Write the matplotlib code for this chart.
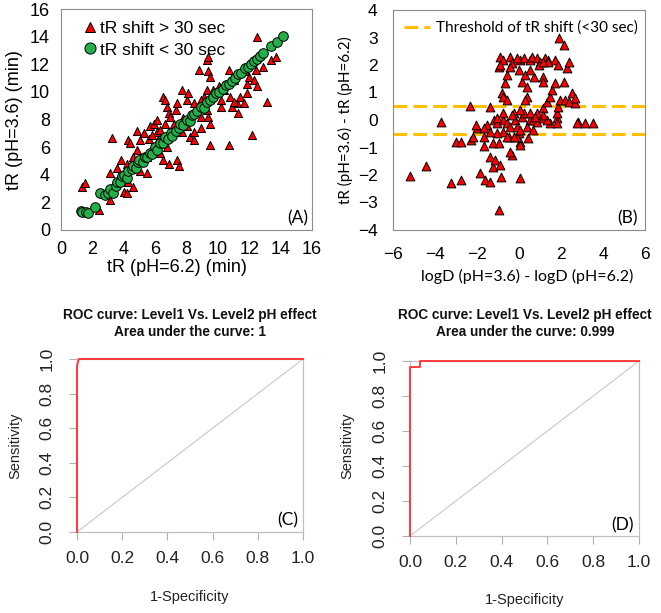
import matplotlib
matplotlib.use('Agg')
import matplotlib.pyplot as plt
from matplotlib.lines import Line2D

# panel A: retention times (min) at pH 6.2 and pH 3.6
shift_ph62 = [1.34, 1.55, 2.4, 3.1, 3.25, 3.1, 3.7, 4.0, 4.2, 4.3, 4.6, 4.2, 4.3, 4.6, 4.85,
              5.06, 5.3, 5.06, 5.5, 5.7, 5.9, 6.1, 6.2, 6.3, 6.5, 6.65, 6.75, 6.9, 6.75, 6.5,
              6.9, 7.4, 7.5, 7.2, 7.3, 7.4, 7.7, 8.0, 8.1, 8.0, 7.7, 8.25, 8.45, 8.8, 9.3,
              9.4, 9.4, 9.5, 9.3, 9.1, 9.3, 9.4, 9.5, 9.5, 9.7, 10.2, 10.2, 10.7, 10.8, 10.9,
              10.7, 11.2, 11.4, 11.65, 11.85, 11.85, 11.96, 12.3, 12.4, 12.2, 12.5, 12.5, 12.9,
              13.15, 13.4, 13.7, 11.75, 11.0, 8.45, 8.9, 8.9, 8.65, 6.1, 5.6, 5.5, 4.85,
              4.4, 3.8, 3.6, 6.3, 6.65, 6.97, 7.8, 8.25, 8.45, 8.9, 10.05, 10.4, 11.3, 11.0,
              6.75, 5.8]
shift_ph36 = [3.14, 3.38, 1.45, 2.2, 6.64, 4.1, 3.86, 2.78, 2.65, 3.5, 3.1, 4.8, 6.5, 5.3, 5.8,
              6.5, 7.0, 4.3, 4.1, 7.5, 7.7, 8.0, 6.5, 5.55, 9.65, 9.4, 8.9, 8.45, 6.0, 5.1,
              4.8, 5.07, 4.6, 7.7, 8.7, 9.2, 10.1, 9.4, 9.9, 7.5, 7.1, 6.75, 7.1, 11.6, 12.3,
              12.55, 11.5, 11.1, 10.1, 9.65, 8.7, 8.2, 7.7, 6.15, 10.1, 9.4, 8.9, 11.6, 9.65, 8.9,
              6.15, 9.2, 9.65, 9.2, 9.9, 10.6, 11.1, 10.86, 11.6, 6.9, 14.0, 10.4, 11.8,
              9.3, 12.3, 12.55, 11.5, 10.86, 6.5, 7.4, 8.2, 8.7, 7.1, 6.6, 5.3, 7.2,
              6.3, 5.07, 4.46, 7.24, 7.7, 8.2, 8.1, 8.1, 9.2, 9.4, 10.4, 10.1, 8.45, 9.3,
              6.75, 6.9]
ok_ph62 = [1.25, 1.35, 1.6, 1.75, 2.15, 2.5, 2.8, 3.0, 3.1, 3.3, 3.5, 3.6, 3.75, 3.9, 4.0,
           4.2, 4.3, 4.5, 4.6, 4.75, 4.9, 5.0, 5.2, 5.35, 5.5, 5.7, 5.8, 6.0, 6.1, 6.3,
           6.5, 6.6, 6.8, 7.0, 7.1, 7.3, 7.5, 7.6, 7.8, 8.0, 8.2, 8.35, 8.5, 8.7, 8.9,
           9.1, 9.3, 9.5, 9.7, 9.9, 10.1, 10.3, 10.5, 10.7, 10.9, 11.1, 11.3, 11.5, 11.7,
           11.9, 12.1, 12.3, 12.5, 12.7, 12.9, 13.4, 13.8, 14.15]
ok_ph36 = [1.35, 1.33, 1.28, 1.2, 1.64, 2.7, 2.5, 2.7, 3.0, 2.65, 3.2, 3.45, 3.5, 3.9, 4.0,
           3.8, 4.3, 4.4, 4.6, 4.5, 4.9, 5.1, 4.9, 5.3, 5.3, 5.6, 5.5, 6.0, 5.8, 6.3,
           6.3, 6.7, 6.6, 7.0, 6.8, 7.2, 7.4, 7.7, 7.6, 8.0, 7.9, 8.3, 8.4, 8.6, 8.9,
           8.8, 9.3, 9.4, 9.6, 9.9, 10.0, 10.2, 10.5, 10.6, 10.8, 11.0, 11.3, 11.4, 11.7,
           11.8, 12.0, 12.2, 12.4, 12.6, 12.8, 13.3, 13.6, 14.05]

# panel B: logD difference vs tR difference
logd_diff = [-5.18, -4.43, -3.7, -3.24, -2.77, -3.0, -2.75, -2.32, -2.29, -2.21, -2.0, -2.05,
             -1.85, -1.69, -1.66, -1.61, -1.53, -1.37, -1.37, -1.37, -1.26, -1.26, -1.21,
             -1.13, -1.05, -0.97, -0.97, -0.9, -0.85, -0.97, -0.9, -0.74, -0.82, -0.74,
             -0.66, -0.58, -0.58, -0.42, -0.34, -0.42, -0.74, -0.58, -0.42, -0.5, -0.34,
             -0.42, -0.26, -0.18, -0.1, -0.02, 0.06, 0.06, 0.06, -0.1, 0.14, 0.22, 0.14,
             -0.02, 0.06, 0.22, 0.37, 0.37, 0.29, 0.29, 0.53, 0.61, 0.85, 1.0, 0.93, 0.72,
             1.16, 1.16, 1.24, 1.4, 0.53, 0.69, 0.37, 0.45, 0.85, 1.16, 1.16, 1.32, 1.48,
             1.56, 1.72, 1.8, 1.8, 1.8, 1.88, 1.96, 1.72, 1.88, 1.91, 2.12, 2.12, 2.2, 2.28,
             2.36, 2.36, 2.51, 2.67, 2.67, 2.83, 3.15, 3.54, 2.75, 1.48, 1.32, 1.16, 0.85,
             0.53, 0.69, -0.74, -1.05, -1.37, -1.69, -0.26, 0.06, 0.06, -0.34, -0.74, -1.05,
             -0.58, 0.77, 1.4, -0.1, -0.9, 0.53, 1.16]
tr_diff = [-2.02, -1.66, -0.06, -2.28, -2.18, -0.79, -0.79, 0.51, -0.73, -0.6, -0.3, -0.18,
           -1.94, -0.93, -0.6, -2.18, -0.18, 0.46, -2.24, -1.33, -0.85, -1.7, 0.0,
           -1.45, -0.12, -3.27, -0.85, -1.64, -2.06, 1.94, 2.3, 2.18, 0.97, 0.85,
           1.33, 1.64, 0.73, 2.3, 2.06, 1.94, 0.0, -0.12, -0.24, -0.6, -1.27,
           -1.15, 0.24, 0.0, -0.24, -0.48, -0.79, -0.91, -2.12, -0.6, 0.12, 0.24, 1.39,
           1.82, 2.18, 2.24, 1.21, 0.85, 0.73, 1.64, 2.18, 2.3, 2.24, 2.12, 2.0, 1.58,
           1.58, 1.39, 2.24, 2.18, 0.0, 0.0, -0.24, -0.67, -0.06, 0.06, 0.42, 0.67, 0.85,
           1.09, 1.33, 0.06, -0.12, 0.24, 0.48, 0.73, 2.18, 2.0, 2.97, 2.73, 1.39, 0.73, 1.88,
           2.12, 0.67, 0.97, 0.61, 0.79, -0.06, -0.1, -0.12, -0.12, -0.12, 0.0, 0.18, 0.24,
           0.24, -0.36, -0.42, -0.48, -0.42, -0.3, -0.6, -0.36, 0.36, 0.18, 0.24, 0.06,
           -0.6, 0.12, 2.12, 2.24, 2.0, 1.82, 2.12]
threshold = 0.5

# panels C and D: ROC curves
fpr_c = [0.0, 0.0, 0.003, 0.008, 1.0]
tpr_c = [0.0, 0.96, 0.975, 1.0, 1.0]
fpr_d = [0.0, 0.0, 0.044, 0.044, 1.0]
tpr_d = [0.0, 0.966, 0.966, 1.0, 1.0]
auc_c = '1'
auc_d = '0.999'

W, H = 661, 613
fig = plt.figure(figsize=(W / 100, H / 100), dpi=100)


def box(x0, y0, x1, y1):
    # pixel box (top-left origin) -> figure fraction rect
    return [x0 / W, 1 - y1 / H, (x1 - x0) / W, (y1 - y0) / H]


def ftext(px, py, s, **kw):
    fig.text(px / W, 1 - py / H, s, ha='center', va='center', **kw)


arial = 'Liberation Sans'
calibri = 'Lato'
frame_col = '#8c8c8c'
red = '#ff0000'
green = '#22b04b'

# ---- (A)
ax = fig.add_axes(box(61, 9, 312, 230))
ax.scatter(shift_ph62, shift_ph36, marker='^', s=34, c=red, edgecolors='black',
           linewidths=0.7, zorder=3)
ax.scatter(ok_ph62, ok_ph36, marker='o', s=48, c=green, edgecolors='black',
           linewidths=0.7, zorder=4)
ax.set_xlim(0, 16)
ax.set_ylim(0, 16)
ax.set_xticks(range(0, 17, 2))
ax.set_yticks(range(0, 17, 2))
ax.tick_params(length=0, labelsize=13, pad=8)
for lab in ax.get_xticklabels() + ax.get_yticklabels():
    lab.set_family(arial)
for sp in ax.spines.values():
    sp.set_color(frame_col)
handles = [Line2D([], [], ls='none', marker='^', ms=7, mfc=red, mec='black', mew=0.7),
           Line2D([], [], ls='none', marker='o', ms=8, mfc=green, mec='black', mew=0.7)]
ax.legend(handles, ['tR shift > 30 sec', 'tR shift < 30 sec'], loc='upper left',
          frameon=False, handlelength=0.6, handletextpad=0.3, labelspacing=0.35,
          borderaxespad=0.3, bbox_to_anchor=(0.045, 1.0),
          prop={'family': arial, 'size': 12.5})
ftext(177, 268, 'tR (pH=6.2) (min)', family=arial, fontsize=13)
ftext(15, 120, 'tR (pH=3.6) (min)', family=arial, fontsize=13, rotation=90)
ftext(298, 218, '(A)', family=calibri, fontsize=12.5)

# ---- (B)
ax = fig.add_axes(box(393, 10, 645, 230))
ax.scatter(logd_diff, tr_diff, marker='^', s=40, c=red, edgecolors='black',
           linewidths=0.7, zorder=3)
ax.axhline(threshold, color='#ffc000', lw=2.2, ls=(0, (4.5, 2)), zorder=2,
           label='Threshold of tR shift (<30 sec)')
ax.axhline(-threshold, color='#ffc000', lw=2.2, ls=(0, (4.5, 2)), zorder=2)
ax.set_xlim(-6, 6)
ax.set_ylim(-4, 4)
ax.set_xticks(range(-6, 7, 2))
ax.set_yticks(range(-4, 5))
ax.tick_params(length=0, labelsize=12.5)
ax.tick_params(axis='x', pad=12)
ax.tick_params(axis='y', pad=11)
for lab in ax.get_xticklabels() + ax.get_yticklabels():
    lab.set_family(arial)
for sp in ax.spines.values():
    sp.set_color(frame_col)
ax.legend(loc='upper left', frameon=False, handlelength=1.7, handletextpad=0.4,
          borderaxespad=0.3, bbox_to_anchor=(0.0, 1.0),
          prop={'family': calibri, 'size': 11})
ftext(527, 276, 'logD (pH=3.6) - logD (pH=6.2)', family=calibri, fontsize=11.5)
ftext(345, 120, 'tR (pH=3.6) - tR (pH=6.2)', family=calibri, fontsize=11, rotation=90)
ftext(627, 218, '(B)', family=calibri, fontsize=12.5)


# ---- (C) and (D): ROC curves
def roc_panel(rect, fpr, tpr, auc, tag, cx, tagxy, ylab_x, xlab_y):
    ax = fig.add_axes(rect)
    ax.plot([0, 1], [0, 1], color='#c8c8c8', lw=0.8, zorder=1)
    ax.plot(fpr, tpr, color='#ff3b3b', lw=1.4, zorder=3, clip_on=False)
    ax.set_xlim(0, 1)
    ax.set_ylim(0, 1)
    ticks = [0.0, 0.2, 0.4, 0.6, 0.8, 1.0]
    ax.set_xticks(ticks)
    ax.set_yticks(ticks)
    ax.set_xticklabels(['%.1f' % t for t in ticks])
    ax.set_yticklabels(['%.1f' % t for t in ticks], rotation=90, va='center')
    ax.tick_params(direction='out', length=6, width=0.8, color='#b0b0b0',
                   labelsize=12.5, labelcolor='#222222')
    ax.tick_params(axis='x', pad=8)
    ax.tick_params(axis='y', pad=10)
    for lab in ax.get_xticklabels() + ax.get_yticklabels():
        lab.set_family(arial)
    for sp in ax.spines.values():
        sp.set_color('#c0c0c0')
        sp.set_linewidth(0.9)
    ftext(cx, 315, 'ROC curve: Level1 Vs. Level2 pH effect', family=arial,
          fontsize=9.8, fontweight='bold', color='#111111')
    ftext(cx, 332, 'Area under the curve: ' + auc, family=arial,
          fontsize=9.8, fontweight='bold', color='#111111')
    ftext(ylab_x, 446, 'Sensitivity', family=arial, fontsize=10.5,
          rotation=90, color='#222222')
    ftext(cx, xlab_y, '1-Specificity', family=arial, fontsize=10.5, color='#222222')
    ftext(tagxy[0], tagxy[1], tag, family=calibri, fontsize=12.5)


roc_panel(box(77, 359, 303, 532), fpr_c, tpr_c, auc_c, '(C)', 190, (288, 520), 15, 597)
roc_panel(box(410, 361, 639, 536), fpr_d, tpr_d, auc_d, '(D)', 525, (623, 525), 347, 600)

fig.savefig('out.png', dpi=100)
